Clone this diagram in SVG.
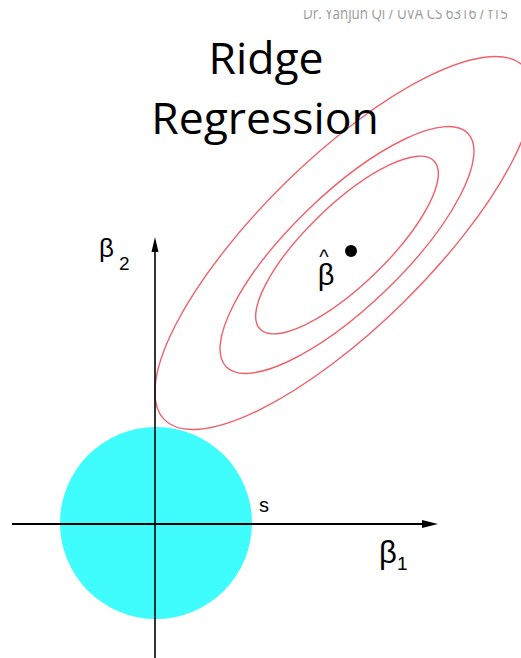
<svg xmlns="http://www.w3.org/2000/svg" width="521" height="658" viewBox="0 0 521 658">
<style>
.ell{fill:none;stroke:#f0606a;stroke-width:1.4}
.ax{stroke:#000;fill:none}
.lbl{font-family:"Liberation Sans",Arial,sans-serif;fill:#000}
.title{font-family:"Open Sans","Liberation Sans",sans-serif;font-size:44.5px;fill:#000;text-anchor:middle}
</style>
<defs>
<clipPath id="hc"><rect x="0" y="10" width="521" height="20"/></clipPath>
</defs>
<rect width="521" height="658" fill="#fff"/>
<g id="header" clip-path="url(#hc)">
<text x="303" y="19" font-family="'Open Sans','Liberation Sans',sans-serif" font-size="15.5" fill="#999" textLength="205" lengthAdjust="spacingAndGlyphs">Dr. Yanjun Qi / UVA CS 6316 / f15</text>
</g>
<g id="constraint">
<circle cx="156" cy="523" r="96" fill="#40fdfd"/>
</g>
<g id="contours">
<ellipse class="ell" transform="translate(347,245) rotate(-44)" cx="0" cy="0" rx="121" ry="40"/>
<ellipse class="ell" transform="translate(347,250) rotate(-44)" cx="0" cy="0" rx="168" ry="56"/>
<ellipse class="ell" transform="translate(344,243) rotate(-44.5)" cx="0" cy="0" rx="252" ry="84"/>
</g>
<g id="title">
<text class="title" x="266" y="74">Ridge</text>
<text class="title" x="265" y="134">Regression</text>
</g>
<g id="connectors">
<line class="ax" x1="155" y1="250" x2="155" y2="658" stroke-width="1.6"/>
<polygon points="155,237 151.5,252 158.5,252" fill="#000"/>
<line class="ax" x1="12" y1="524" x2="425" y2="524" stroke-width="2.2"/>
<polygon points="438,524 422,520 422,528" fill="#000"/>
</g>
<g id="beta-hat">
<circle cx="351" cy="251" r="6" fill="#000"/>
<text class="lbl" text-anchor="middle"><tspan x="324" y="264" font-size="20">^</tspan><tspan x="326" y="285" font-size="29">β</tspan></text>
</g>
<g id="beta2-label">
<text class="lbl" x="99" y="257" font-size="26">β</text>
<text class="lbl" x="119" y="270" font-size="19">2</text>
</g>
<g id="beta1-label">
<text class="lbl" x="379" y="563" font-size="31">β</text>
<text class="lbl" x="397" y="570" font-size="19">1</text>
</g>
<g id="s-label">
<text class="lbl" x="259" y="512" font-size="20">s</text>
</g>
</svg>
